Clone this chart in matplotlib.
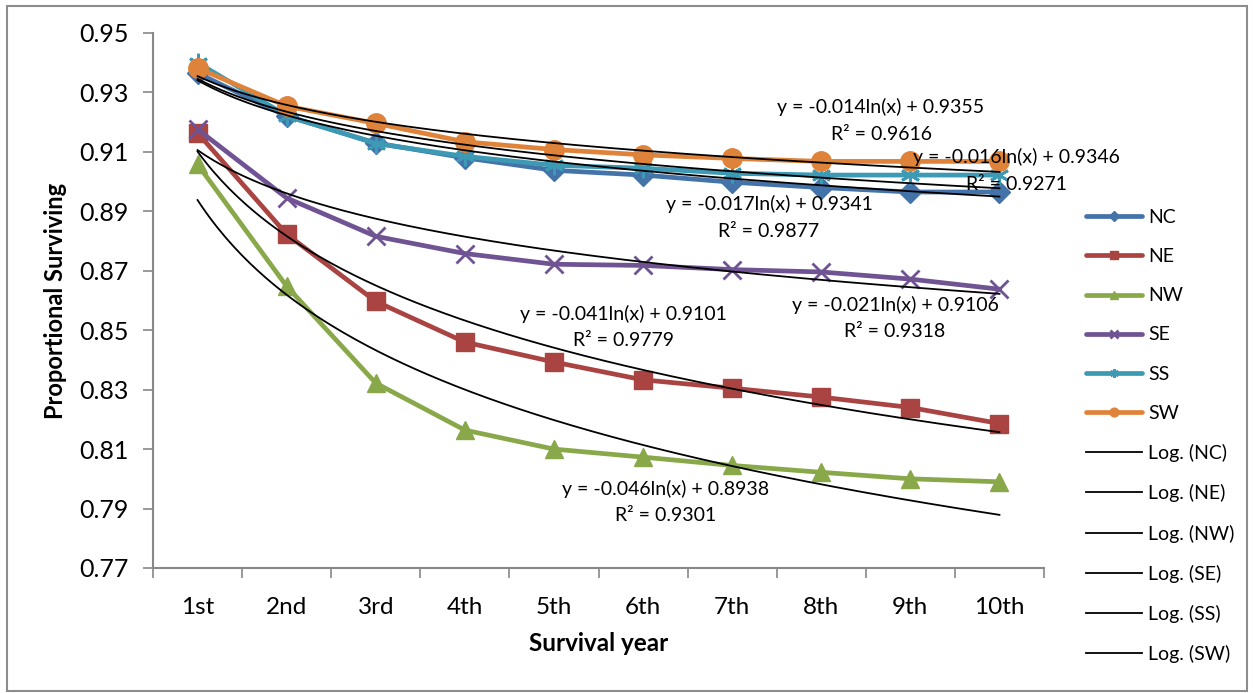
import numpy as np
import matplotlib
matplotlib.use("Agg")
import matplotlib.pyplot as plt
from matplotlib.patches import Rectangle

plt.rcParams['font.family'] = ['Lato', 'DejaVu Sans']

years = ["1st", "2nd", "3rd", "4th", "5th", "6th", "7th", "8th", "9th", "10th"]
NC = [0.9365, 0.9220, 0.9130, 0.9080, 0.9038, 0.9022, 0.8998, 0.8980, 0.8965, 0.8965]
NE = [0.9164, 0.8823, 0.8597, 0.8460, 0.8393, 0.8333, 0.8305, 0.8275, 0.8240, 0.8186]
NW = [0.9058, 0.8648, 0.8322, 0.8164, 0.8100, 0.8073, 0.8045, 0.8022, 0.8000, 0.7990]
SE = [0.9176, 0.8945, 0.8816, 0.8758, 0.8722, 0.8718, 0.8704, 0.8696, 0.8672, 0.8638]
SS = [0.9400, 0.9222, 0.9128, 0.9085, 0.9055, 0.9045, 0.9028, 0.9022, 0.9022, 0.9022]
SW = [0.9382, 0.9254, 0.9196, 0.9134, 0.9108, 0.9090, 0.9078, 0.9068, 0.9068, 0.9068]

series_names = ["NC", "NE", "NW", "SE", "SS", "SW"]
trend_a = [-0.017, -0.041, -0.046, -0.021, -0.016, -0.014]
trend_b = [0.9341, 0.9101, 0.8938, 0.9106, 0.9346, 0.9355]
trend_r2 = [0.9877, 0.9779, 0.9301, 0.9318, 0.9271, 0.9616]

colors = ["#4473AA", "#AA4442", "#89A84A", "#6F5393", "#3D9AB5", "#E0833A"]
markers = ["D", "s", "^", "x", "*", "o"]
msizes = [11, 13, 13, 13, 14, 14]

# label centres (category position, value), in series order
label_pos = [(7.414, 0.8879), (5.775, 0.8511), (6.258, 0.7922),
             (8.828, 0.8541), (10.196, 0.9037), (8.671, 0.9207)]

fig = plt.figure(figsize=(12.53, 6.93), dpi=100)
ax = fig.add_axes([153/1253, 1 - 568/693, (1044 - 153)/1253, (568 - 33)/693])

x = np.arange(1, len(years) + 1)
data = [NC, NE, NW, SE, SS, SW]
handles = []
for name, vals, c, m, ms in zip(series_names, data, colors, markers, msizes):
    if m == "*":
        h, = ax.plot(x, vals, color=c, lw=3.4, marker=(6, 2, 0), ms=ms, mew=2.0,
                     label=name, solid_capstyle='round', zorder=3)
    else:
        mew = 2.0 if m == "x" else 1.0
        h, = ax.plot(x, vals, color=c, lw=3.4, marker=m, ms=ms, mew=mew,
                     label=name, solid_capstyle='round', zorder=3)
    handles.append(h)

xs = np.linspace(1, 10, 200)
for name, a, b in zip(series_names, trend_a, trend_b):
    h, = ax.plot(xs, a * np.log(xs) + b, color="black", lw=1.3, zorder=4,
                 label=f"Log. ({name})")
    handles.append(h)

for (px, py), a, b, r2 in zip(label_pos, trend_a, trend_b, trend_r2):
    ax.text(px, py, f"y = {a:.3f}ln(x) + {b:.4f}\nR\u00b2 = {r2:.4f}",
            ha="center", va="center", fontsize=14, linespacing=1.7, zorder=5,
            clip_on=False)

ax.set_xlim(0.5, 10.5)
ax.set_ylim(0.77, 0.95)
ticks = np.arange(0.77, 0.951, 0.02)
ax.set_yticks(ticks)
ax.set_yticklabels([f"{v:.2f}" for v in ticks])
ax.set_xticks(x)
ax.set_xticklabels(years)
ax.set_xticks(np.arange(0.5, 10.6, 1), minor=True)
ax.tick_params(axis="x", which="major", length=0, pad=21, labelsize=17.5)
ax.tick_params(axis="x", which="minor", length=7, color="#888888", width=1.2, direction="out")
ax.tick_params(axis="y", length=7, color="#888888", width=1.2, labelsize=18, pad=10.5)
for s in ["top", "right"]:
    ax.spines[s].set_visible(False)
for s in ["left", "bottom"]:
    ax.spines[s].set_color("#888888")
    ax.spines[s].set_linewidth(1.5)

ax.set_ylabel("Proportional Surviving", fontsize=17, fontweight="bold", labelpad=9)
ax.set_xlabel("Survival year", fontsize=17.5, fontweight="bold", labelpad=10)

leg = fig.legend(handles=handles, loc="upper left", bbox_to_anchor=(1086/1253, 1 - 209/693),
                 frameon=False, fontsize=14, handlelength=2.9, labelspacing=1.14,
                 markerscale=0.45, handletextpad=0.3, borderaxespad=0, borderpad=0)

fig.patches.append(Rectangle((7/1253, 2/693), (1247 - 7)/1253, (689 - 4)/693,
                             transform=fig.transFigure, fill=False,
                             edgecolor="#8c8c8c", lw=1.5))

fig.savefig("out.png", dpi=100)
